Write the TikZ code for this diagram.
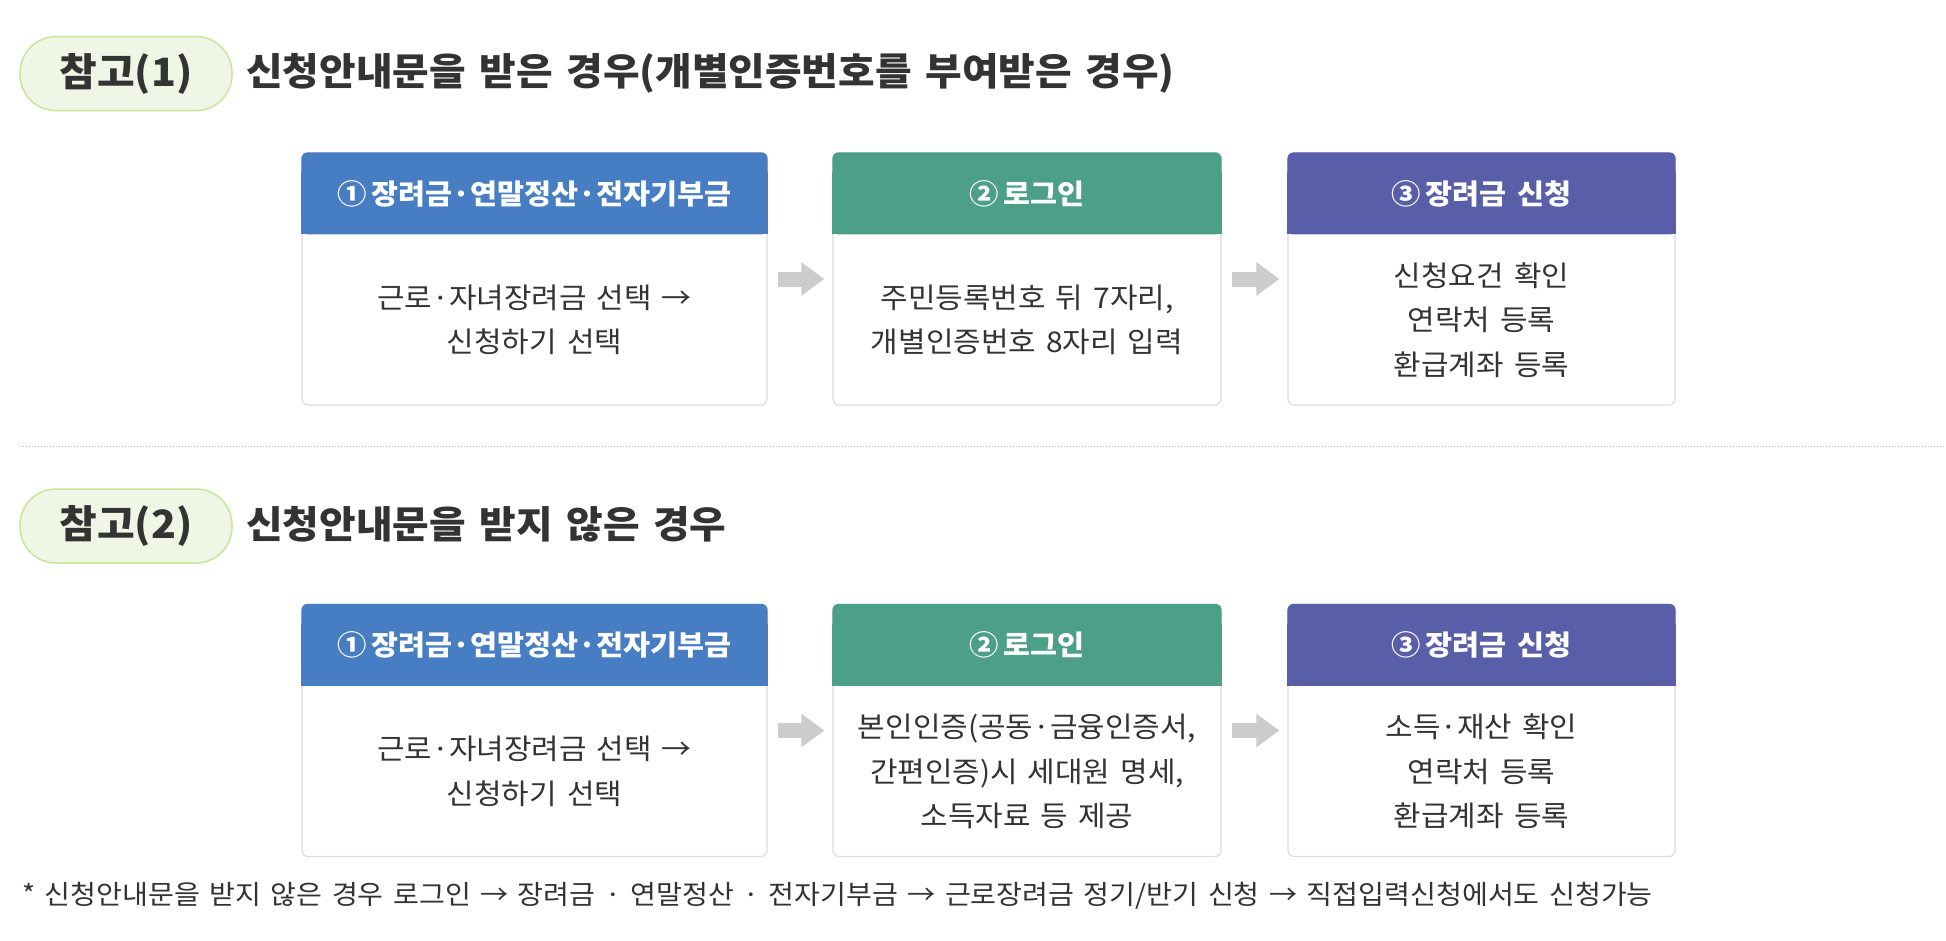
\documentclass[tikz,border=0pt]{standalone}
\usepackage{fontspec}
\setmainfont{Noto Sans CJK KR}[FakeStretch=1.05, WordSpace=1.5]
\usetikzlibrary{arrows.meta,calc}
\definecolor{txt}{HTML}{333333}
\definecolor{hblue}{HTML}{477DC3}
\definecolor{hgreen}{HTML}{4CA088}
\definecolor{hpurple}{HTML}{585FA8}
\definecolor{pillfill}{HTML}{EFF6E5}
\definecolor{pillline}{HTML}{C8E69A}
\definecolor{boxline}{HTML}{DDDDDD}
\definecolor{arrowgray}{HTML}{CCCCCC}
\definecolor{dotgray}{HTML}{BBBBBB}
\tikzset{
  pill/.style={draw=pillline, line width=1.5pt, fill=pillfill, rounded corners=36pt,
    minimum width=212pt, minimum height=74pt, inner sep=0pt, text=txt,
    font=\fontsize{39}{42}\selectfont\bfseries},
  heading/.style={anchor=west, inner sep=0pt, text=txt, font=\fontsize{37.9}{42}\selectfont\bfseries},
  box/.style={draw=boxline, line width=1.2pt, fill=white, rounded corners=6pt,
    minimum height=252pt, inner sep=0pt},
  htext/.style={text=white, inner sep=0pt, font=\fontsize{28}{30}\selectfont\bfseries},
  btext/.style={text=txt, inner sep=0pt, align=center, font=\fontsize{28.5}{44.5}\selectfont},
  flow/.style={draw=arrowgray, line width=15pt, -{Triangle[width=32pt,length=23pt]},
    shorten <=10pt, shorten >=8pt},
  note/.style={anchor=west, inner sep=0pt, text=txt, font=\fontsize{26.8}{28}\selectfont},
}
\newcommand{\header}[2]{% node name, color
  \fill[#2, rounded corners=6pt] (#1.north west) rectangle ([yshift=-82pt]#1.east |- #1.north);
  \fill[#2] ([yshift=-20pt]#1.north west) rectangle ([yshift=-82pt]#1.east |- #1.north);
}
\begin{document}
\begin{tikzpicture}[x=1pt,y=-1pt]
\useasboundingbox (0,0) rectangle (1946,940);
\fill[white] (0,0) rectangle (1946,940);

% ---- section 1 ----
\node[pill] (p1) at (126,73.6) {\raisebox{2.5pt}{참고(1)}};
\node[heading] (t1) at (246,73.5) {신청안내문을 받은 경우(개별인증번호를 부여받은 경우)};

\node[box, minimum width=465pt] (a1) at (534.5,279) {};
\node[box, minimum width=388pt] (a2) at (1027,279) {};
\node[box, minimum width=387pt] (a3) at (1481.5,279) {};
\header{a1}{hblue}
\header{a2}{hgreen}
\header{a3}{hpurple}
\node[htext] (ah1) at (534.5,194) {①\,장려금·연말정산·전자기부금};
\node[htext] (ah2) at (1027,194) {②\,로그인};
\node[htext] (ah3) at (1481.5,194) {③\,장려금 신청};
\node[btext] (ab1) at (534.5,320) {근로·자녀장려금 선택 →\\신청하기 선택};
\node[btext] (ab2) at (1027,320) {주민등록번호 뒤 7자리,\\개별인증번호 8자리 입력};
\node[btext] (ab3) at (1481.5,320) {신청요건 확인\\연락처 등록\\환급계좌 등록};
\draw[flow] (a1.east) -- (a2.west);
\draw[flow] (a2.east) -- (a3.west);

% ---- divider ----
\coordinate (d1) at (20,446);
\coordinate (d2) at (1946,446);
\draw[dotgray, line width=1pt, dash pattern=on 1.2pt off 1.8pt] (d1) -- (d2);

% ---- section 2 ----
\node[pill] (p2) at (126,526) {\raisebox{2.5pt}{참고(2)}};
\node[heading] (t2) at (246,524.5) {신청안내문을 받지 않은 경우};

\node[box, minimum width=465pt] (b1) at (534.5,730.5) {};
\node[box, minimum width=388pt] (b2) at (1027,730.5) {};
\node[box, minimum width=387pt] (b3) at (1481.5,730.5) {};
\header{b1}{hblue}
\header{b2}{hgreen}
\header{b3}{hpurple}
\node[htext] (bh1) at (534.5,645) {①\,장려금·연말정산·전자기부금};
\node[htext] (bh2) at (1027,645) {②\,로그인};
\node[htext] (bh3) at (1481.5,645) {③\,장려금 신청};
\node[btext] (bb1) at (534.5,771.5) {근로·자녀장려금 선택 →\\신청하기 선택};
\node[btext] (bb2) at (1027,771.5) {본인인증(공동·금융인증서,\\간편인증)시 세대원 명세,\\소득자료 등 제공};
\node[btext] (bb3) at (1481.5,771.5) {소득·재산 확인\\연락처 등록\\환급계좌 등록};
\draw[flow] (b1.east) -- (b2.west);
\draw[flow] (b2.east) -- (b3.west);

% ---- footnote ----
\node[note] (n1) at (22,896) {* 신청안내문을 받지 않은 경우 로그인 → 장려금 · 연말정산 · 전자기부금 → 근로장려금 정기/반기 신청 → 직접입력신청에서도 신청가능};
\end{tikzpicture}
\end{document}
